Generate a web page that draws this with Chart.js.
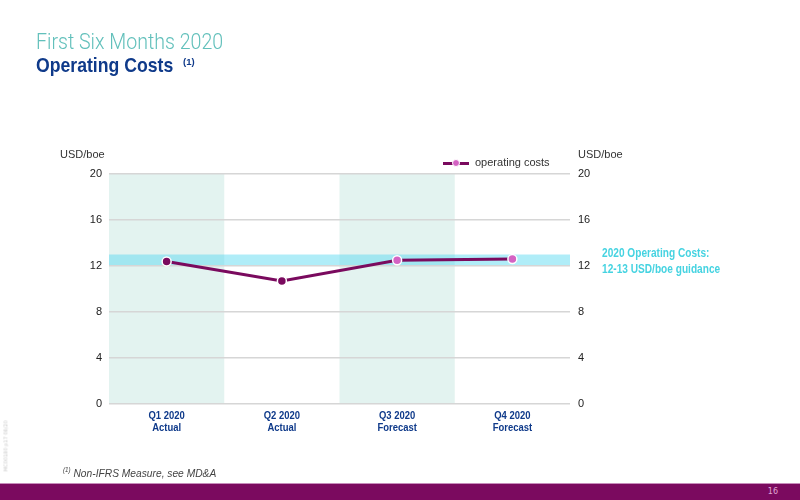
<!DOCTYPE html>
<html>
<head>
<meta charset="utf-8">
<script src="https://cdn.jsdelivr.net/npm/chart.js@4.4.0/dist/chart.umd.min.js"></script>
<style>
  html, body { margin:0; padding:0; width:800px; height:500px; overflow:hidden; background:#fff; font-family:"Liberation Sans",Arial,sans-serif; }
  #wrap { position:absolute; left:0; top:0; width:800px; height:500px; }
  .sx { transform-origin:0 50%; white-space:nowrap; position:absolute; }
  .t1 { left:36px; top:30.5px; font-size:22px; line-height:22px; color:#62c0bb; font-family:Roboto,sans-serif; font-weight:300; transform:scaleX(0.89); }
  .t2 { left:36px; top:54px; font-size:21px; line-height:21px; font-weight:bold; color:#0f3a8a; transform:scaleX(0.84); }
  .t2s { left:183px; top:57px; font-size:9.5px; line-height:9.5px; font-weight:bold; color:#0f3a8a; }
  .unit { top:149px; font-size:11px; line-height:11px; color:#333; }
  .legline { position:absolute; left:443px; top:161.5px; width:26px; height:3px; background:#7a0a5e; }
  .legdot { position:absolute; left:452px; top:159px; width:8px; height:8px; border-radius:50%; background:#d462c3; border:1px solid #fff; box-sizing:border-box; }
  .legtxt { left:475px; top:157px; font-size:11px; line-height:11px; color:#333; }
  .anno { left:602px; top:244.5px; font-size:12.5px; font-weight:bold; color:#45d3e1; line-height:16px; transform:scaleX(0.81); }
  .foot { left:63px; top:466px; font-size:11.5px; font-style:italic; color:#444; transform:scaleX(0.89); }
  .foot sup { font-size:7px; }
  .bar { position:absolute; left:0; top:483px; width:800px; height:17px; background:#7b0a5f; border-top:1px solid #c78dbb; box-sizing:border-box; }
  .pg { position:absolute; right:22px; top:3px; font-size:8px; color:#e0a6d4; font-family:"DejaVu Sans",sans-serif; }
  .vert { position:absolute; left:-20px; top:443px; font-size:5px; color:#c8c8c8; transform:rotate(-90deg); white-space:nowrap; font-family:"DejaVu Sans",sans-serif; }
  canvas { position:absolute; left:0; top:0; }
</style>
</head>
<body>
<div id="wrap">
  <canvas id="c" width="800" height="500"></canvas>
  <div class="sx t1">First Six Months 2020</div>
  <div class="sx t2">Operating Costs</div>
  <div class="sx t2s">(1)</div>
  <div class="sx unit" style="left:60px;">USD/boe</div>
  <div class="sx unit" style="left:578px;">USD/boe</div>
  <div class="legline"></div><div class="legdot"></div>
  <div class="sx legtxt">operating costs</div>
  <div class="sx anno">2020 Operating Costs:<br>12-13 USD/boe guidance</div>
  <div class="sx foot"><sup>(1)</sup> Non-IFRS Measure, see MD&amp;A</div>
  <div class="vert">MC00180 p17 08/20</div>
  <div class="bar"><span class="pg">16</span></div>
</div>
<script>
const quarters = ['Q1 2020', 'Q2 2020', 'Q3 2020', 'Q4 2020'];
const status = ['Actual', 'Actual', 'Forecast', 'Forecast'];
const operatingCosts = [12.4, 10.7, 12.5, 12.6];
const guidanceRange = [12, 13];
const shadedColumns = [0, 2];
const yTicks = [0, 4, 8, 12, 16, 20];

const labels = quarters.map((q, i) => [q, status[i]]);
const pointColors = status.map(s => s === 'Actual' ? '#7a0a5e' : '#d462c3');

const bgPlugin = {
  id: 'bg',
  beforeDraw(chart) {
    const { ctx, chartArea, scales } = chart;
    const x = scales.x, y = scales.y;
    const w = (chartArea.right - chartArea.left) / quarters.length;
    const yTop = y.getPixelForValue(yTicks[yTicks.length - 1]);
    const yBot = y.getPixelForValue(0);
    ctx.save();
    ctx.fillStyle = '#e3f3f0';
    shadedColumns.forEach(i => {
      const cx = x.getPixelForValue(i);
      ctx.fillRect(cx - w / 2, yTop, w, yBot - yTop);
    });
    const top = y.getPixelForValue(guidanceRange[1]);
    const bot = y.getPixelForValue(guidanceRange[0]);
    ctx.fillStyle = 'rgba(80,215,240,0.45)';
    ctx.fillRect(chartArea.left, top, chartArea.right - chartArea.left, bot - top);
    ctx.restore();
  },
  afterDraw(chart) {
    const { ctx, scales } = chart;
    const x = scales.x, y = scales.y;
    const base = y.getPixelForValue(0);
    ctx.save();
    ctx.fillStyle = '#0f3a8a';
    ctx.font = 'bold 10.5px "Liberation Sans", Arial, sans-serif';
    ctx.textAlign = 'center';
    ctx.textBaseline = 'alphabetic';
    labels.forEach((lines, i) => {
      const px = x.getPixelForValue(i);
      lines.forEach((t, j) => {
        ctx.save();
        ctx.translate(px, base + 15 + j * 12);
        ctx.scale(0.9, 1);
        ctx.fillText(t, 0, 0);
        ctx.restore();
      });
    });
    ctx.restore();
  }
};

const tickFont = { family: '"Liberation Sans", Arial, sans-serif', size: 11 };

new Chart(document.getElementById('c'), {
  type: 'line',
  data: {
    labels: labels,
    datasets: [{
      label: 'operating costs',
      data: operatingCosts,
      borderColor: '#7a0a5e',
      borderWidth: 3,
      pointBackgroundColor: pointColors,
      pointBorderColor: '#ffffff',
      pointBorderWidth: 1.5,
      pointRadius: 4.5,
      tension: 0
    }]
  },
  options: {
    responsive: false,
    animation: false,
    events: [],
    layout: { padding: { left: 0, right: 0, top: 174, bottom: 0 } },
    plugins: { legend: { display: false }, tooltip: { enabled: false } },
    scales: {
      x: {
        offset: true,
        grid: { display: false, drawTicks: false },
        border: { display: false },
        ticks: { display: false },
        afterFit(s) { s.height = 96; }
      },
      y: {
        position: 'left',
        min: 0, max: 20,
        afterBuildTicks(s) { s.ticks = yTicks.map(v => ({ value: v })); },
        grid: { color: '#d6d6d6', lineWidth: 1.5, drawTicks: false },
        border: { display: false },
        ticks: { color: '#222', font: tickFont, padding: 7 },
        afterFit(s) { s.width = 109; }
      },
      y2: {
        position: 'right',
        min: 0, max: 20,
        afterBuildTicks(s) { s.ticks = yTicks.map(v => ({ value: v })); },
        grid: { display: false, drawTicks: false },
        border: { display: false },
        ticks: { color: '#222', font: tickFont, padding: 8 },
        afterFit(s) { s.width = 230; }
      }
    }
  },
  plugins: [bgPlugin]
});
</script>
</body>
</html>
